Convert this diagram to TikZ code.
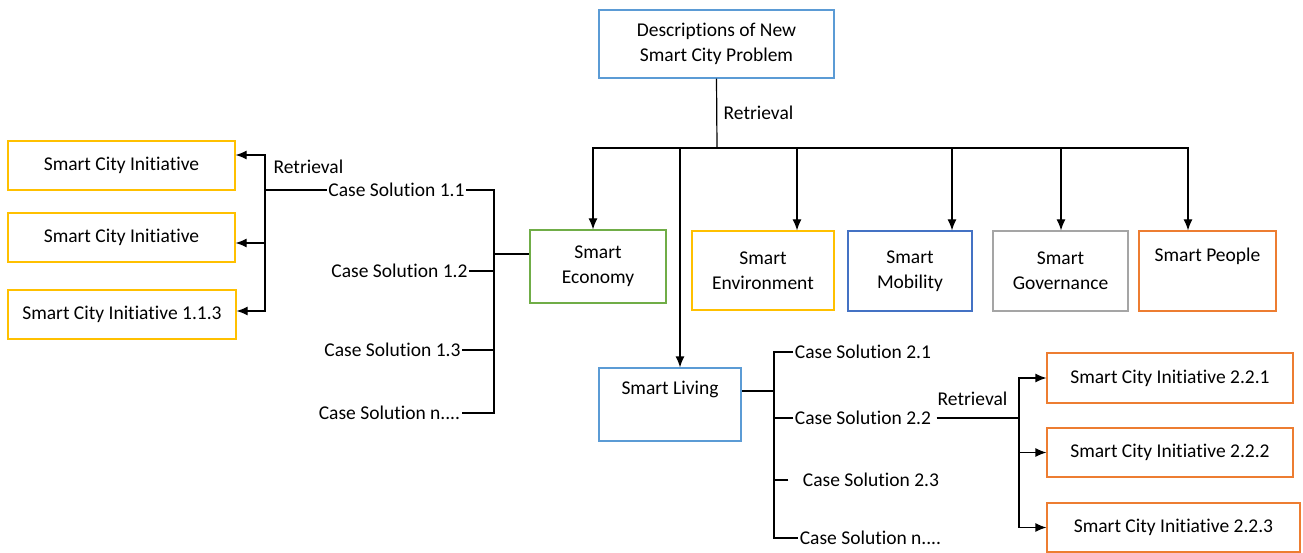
\documentclass[tikz,border=0pt]{standalone}
\usepackage{fontspec}
\setmainfont{Carlito}[Ligatures=NoCommon]
\usetikzlibrary{arrows.meta}
\definecolor{skyblue}{RGB}{91,155,213}
\definecolor{leaf}{RGB}{112,173,71}
\definecolor{gold}{RGB}{255,192,0}
\definecolor{navy}{RGB}{68,114,196}
\definecolor{silver}{RGB}{165,165,165}
\definecolor{tangerine}{RGB}{237,125,49}
\begin{document}
\begin{tikzpicture}[x=1pt,y=-1pt,>={Latex[length=11pt,width=9pt]},line width=1.2pt,
  every node/.style={font=\fontsize{19.5}{25}\selectfont},
  box/.style={draw,line width=1.2pt,align=center,inner sep=0pt},
  lbl/.style={inner sep=1pt}]
  \useasboundingbox (0,0) rectangle (1303,553);

  % Problem
  \node[box,draw=skyblue,minimum width=235pt,minimum height=68pt] (desc) at (716.5,44) {Descriptions of New\\Smart City Problem};

  % Domains
  \node[box,draw=leaf,minimum width=136pt,minimum height=73pt] (econ) at (598,266.5) {Smart\\Economy};
  \node[box,draw=gold,minimum width=142pt,minimum height=79pt] (env) at (763,270.5) {Smart\\Environment};
  \node[box,draw=navy,minimum width=124pt,minimum height=80pt] (mob) at (910,271) {Smart\\Mobility};
  \node[box,draw=silver,minimum width=135pt,minimum height=80pt] (gov) at (1060.5,271) {Smart\\Governance};
  \node[box,draw=tangerine,minimum width=137pt,minimum height=80pt] (people) at (1207.5,271) {Smart People\\\strut};
  \node[box,draw=skyblue,minimum width=142pt,minimum height=73pt] (living) at (670,404.5) {Smart Living\\\strut};

  % Initiatives
  \node[box,draw=gold,minimum width=227pt,minimum height=49pt] (ini1) at (121.5,165.5) {Smart City Initiative};
  \node[box,draw=gold,minimum width=227pt,minimum height=49pt] (ini2) at (121.5,237.5) {Smart City Initiative};
  \node[box,draw=gold,minimum width=228pt,minimum height=49pt] (ini3) at (122,314.5) {Smart City Initiative 1.1.3};
  \node[box,draw=tangerine,minimum width=246pt,minimum height=50pt] (ini221) at (1170,378) {Smart City Initiative 2.2.1};
  \node[box,draw=tangerine,minimum width=246pt,minimum height=49pt] (ini222) at (1170,452.5) {Smart City Initiative 2.2.2};
  \node[box,draw=tangerine,minimum width=253pt,minimum height=49pt] (ini223) at (1173.5,527.5) {Smart City Initiative 2.2.3};

  % Case solutions
  \node[lbl] (cs11) at (396.5,190) {Case Solution 1.1};
  \node[lbl] (cs12) at (399.5,271) {Case Solution 1.2};
  \node[lbl] (cs13) at (392.5,350) {Case Solution 1.3};
  \node[lbl] (cs1n) at (389.5,413) {Case Solution n....};
  \node[lbl] (cs21) at (863,352) {Case Solution 2.1};
  \node[lbl] (cs22) at (863,418) {Case Solution 2.2};
  \node[lbl] (cs23) at (871,480) {Case Solution 2.3};
  \node[lbl] (cs2n) at (870.5,538) {Case Solution n....};

  % Retrieval from problem
  \coordinate (bus) at (717,148);
  \draw (desc.south) -- (bus) node[midway,right,xshift=3pt] {Retrieval};
  \draw[->] (bus) -| ([xshift=-5pt]econ.north);
  \draw[->] (bus) -| ([xshift=34pt]env.north);
  \draw[->] (bus) -| ([xshift=42pt]mob.north);
  \draw[->] (bus) -| ([xshift=0.5pt]gov.north);
  \draw[->] (bus) -| ([xshift=-19.5pt]people.north);
  \draw[->] (bus) -| ([xshift=10pt]living.north);

  % Economy branch
  \coordinate (ebar) at (494,254);
  \draw (ebar) -- (ebar -| econ.west);
  \draw (cs11.east) -| (ebar) |- (cs1n.east);
  \draw (cs12.east) -- (cs12.east -| ebar);
  \draw (cs13.east) -- (cs13.east -| ebar);

  \coordinate (lret) at (265,190);
  \draw (cs11.west) -- (lret);
  \draw[->] (lret) |- ([yshift=10.5pt]ini1.east);
  \draw[->] (lret) |- ([yshift=-5.5pt]ini2.east);
  \draw[->] (lret) |- ([yshift=3.5pt]ini3.east);
  \node[lbl,anchor=west] (lretlbl) at (272,167) {Retrieval};

  % Living branch
  \coordinate (lvbar) at (774,391);
  \draw (lvbar) -- (lvbar -| living.east);
  \draw (cs21.west) -| (lvbar) |- (cs2n.west);
  \draw (cs22.west) -- (cs22.west -| lvbar);
  \draw ([xshift=-13pt]cs23.west) -- (cs23.west -| lvbar);

  \coordinate (rret) at (1019,418);
  \draw ([xshift=4pt]cs22.east) -- (rret);
  \draw[->] (rret) |- (ini221.west);
  \draw[->] (rret) |- (ini222.west);
  \draw[->] (rret) |- (ini223.west);
  \node[lbl] (rretlbl) at (972.5,399) {Retrieval};
\end{tikzpicture}
\end{document}
